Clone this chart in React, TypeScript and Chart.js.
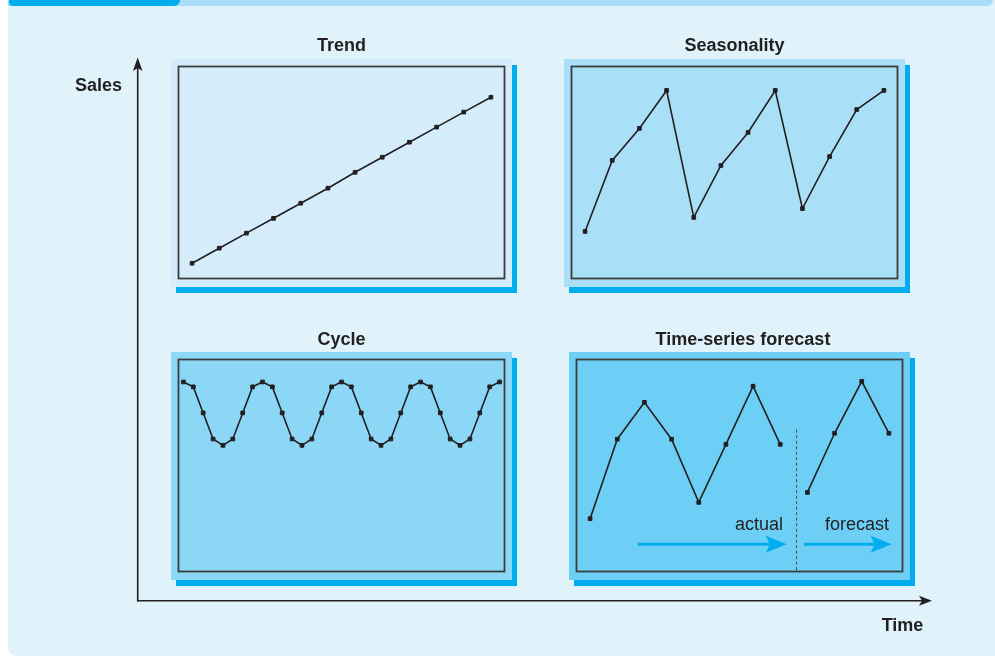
import React, { useEffect, useRef } from "react";
import { Chart, registerables } from "chart.js";

Chart.register(...registerables);

// ---------- data ----------
const trendPeriods = ["1", "2", "3", "4", "5", "6", "7", "8", "9", "10", "11", "12"];
const trendSales = [7.2, 14.3, 21.4, 28.4, 35.5, 42.6, 50.1, 57.2, 64.3, 71.4, 78.5, 85.5];

const seasonPeriods = ["1", "2", "3", "4", "5", "6", "7", "8", "9", "10", "11", "12"];
const seasonSales = [22.2, 55.7, 70.8, 88.7, 28.8, 53.3, 68.9, 88.7, 33.0, 57.5, 79.7, 88.7];

const cyclePeriods = [
  "1", "2", "3", "4", "5", "6", "7", "8", "9", "10", "11",
  "12", "13", "14", "15", "16", "17", "18", "19", "20", "21", "22",
  "23", "24", "25", "26", "27", "28", "29", "30", "31", "32", "33",
];
const cycleSales = [
  89.4, 87.1, 74.8, 62.5, 59.5, 62.5, 74.8, 87.1,
  89.4, 87.1, 74.8, 62.5, 59.5, 62.5, 74.8, 87.1,
  89.4, 87.1, 74.8, 62.5, 59.5, 62.5, 74.8, 87.1,
  89.4, 87.1, 74.8, 62.5, 59.5, 62.5, 74.8, 87.1,
  89.4,
];

const forecastPeriods = ["1", "2", "3", "4", "5", "6", "7", "8", "9", "10", "11", "12"];
const actualSales = [24.9, 62.4, 79.8, 62.4, 32.6, 60.0, 87.4, 60.0, null, null, null, null];
const forecastSales = [null, null, null, null, null, null, null, null, 37.3, 65.2, 89.7, 65.2];

const panelTitles = ["Trend", "Seasonality", "Cycle", "Time-series forecast"];
const yAxisLabel = "Sales";
const xAxisLabel = "Time";
const actualLabel = "actual";
const forecastLabel = "forecast";

// ---------- styles ----------
const INK = "#231f20";
const BOX = "#3c3c3c";
const SHADOW = "#00aeef";
const FONT = '"Liberation Sans", Arial, Helvetica, sans-serif';

const boxBorder = {
  id: "boxBorder",
  beforeDatasetsDraw(chart: any) {
    const { ctx, chartArea: a } = chart;
    ctx.save();
    ctx.strokeStyle = BOX;
    ctx.lineWidth = 1.8;
    ctx.strokeRect(a.left, a.top, a.right - a.left, a.bottom - a.top);
    ctx.restore();
  },
};

function drawArrow(ctx: CanvasRenderingContext2D, x0: number, x1: number, y: number) {
  ctx.save();
  ctx.strokeStyle = SHADOW;
  ctx.fillStyle = SHADOW;
  ctx.lineWidth = 3;
  ctx.beginPath();
  ctx.moveTo(x0, y);
  ctx.lineTo(x1 - 14, y);
  ctx.stroke();
  ctx.beginPath();
  ctx.moveTo(x1, y);
  ctx.lineTo(x1 - 21, y - 8.5);
  ctx.lineTo(x1 - 17, y);
  ctx.lineTo(x1 - 21, y + 8.5);
  ctx.closePath();
  ctx.fill();
  ctx.restore();
}

const forecastNotes = {
  id: "forecastNotes",
  afterDatasetsDraw(chart: any) {
    const { ctx } = chart;
    const xs = chart.scales.x;
    const ys = chart.scales.y;
    // divider between actual and forecast
    const dx = xs.getPixelForValue(7.6);
    ctx.save();
    ctx.strokeStyle = "#4a4a4a";
    ctx.lineWidth = 1;
    ctx.setLineDash([3, 2.5]);
    ctx.beginPath();
    ctx.moveTo(dx, ys.getPixelForValue(66.9));
    ctx.lineTo(dx, ys.getPixelForValue(0));
    ctx.stroke();
    ctx.restore();
    // arrows
    const ay = ys.getPixelForValue(12.9);
    drawArrow(ctx, xs.getPixelForValue(1.76), xs.getPixelForValue(7.24), ay);
    drawArrow(ctx, xs.getPixelForValue(7.87), xs.getPixelForValue(11.1), ay);
    // labels
    ctx.save();
    ctx.fillStyle = INK;
    ctx.font = `18px ${FONT}`;
    ctx.textAlign = "right";
    ctx.textBaseline = "alphabetic";
    ctx.fillText(actualLabel, xs.getPixelForValue(7.1), ys.getPixelForValue(19.4));
    ctx.fillText(forecastLabel, xs.getPixelForValue(11.0), ys.getPixelForValue(19.4));
    ctx.restore();
  },
};

type PanelProps = {
  left: number;
  top: number;
  fill: string;
  labels: string[];
  series: (number | null)[][];
  extra?: any;
};

function Panel({ left, top, fill, labels, series, extra }: PanelProps) {
  const ref = useRef<HTMLCanvasElement>(null);
  useEffect(() => {
    const chart = new Chart(ref.current as HTMLCanvasElement, {
      type: "line",
      data: {
        labels,
        datasets: series.map((d) => ({
          data: d,
          borderColor: INK,
          borderWidth: 1.6,
          pointStyle: "rect",
          pointRadius: 2.6,
          pointBorderWidth: 1,
          pointBackgroundColor: INK,
          pointBorderColor: INK,
          tension: 0,
          fill: false,
          spanGaps: false,
        })),
      },
      options: {
        animation: false,
        responsive: false,
        maintainAspectRatio: false,
        events: [],
        layout: { padding: 2.5, autoPadding: false },
        plugins: {
          legend: { display: false },
          tooltip: { enabled: false },
          title: { display: false },
        },
        scales: {
          x: { type: "category", display: false, offset: true },
          y: { type: "linear", display: false, min: 0, max: 100 },
        },
      } as any,
      plugins: extra ? [boxBorder, extra] : [boxBorder],
    });
    return () => chart.destroy();
  }, []);
  return (
    <>
      <div
        style={{
          position: "absolute",
          left: left + 5,
          top: top + 6,
          width: 341,
          height: 228,
          background: SHADOW,
        }}
      />
      <div
        style={{
          position: "absolute",
          left,
          top,
          width: 341,
          height: 228,
          background: fill,
        }}
      />
      <canvas
        ref={ref}
        width={331}
        height={217}
        style={{ position: "absolute", left: left + 5, top: top + 5, width: 331, height: 217 }}
      />
    </>
  );
}

export default function App() {
  const titleStyle = {
    fontFamily: FONT,
    fontSize: 18,
    fontWeight: 700,
    fill: INK,
  } as React.CSSProperties;
  return (
    <div
      style={{
        position: "absolute",
        left: 0,
        top: 0,
        width: 995,
        height: 656,
        background: "#ffffff",
        overflow: "hidden",
      }}
    >
      <div
        style={{
          position: "absolute",
          left: 8,
          top: 0,
          width: 987,
          height: 656,
          background: "#e0f3fb",
          borderBottomLeftRadius: 8,
        }}
      />
      <div
        style={{
          position: "absolute",
          left: 8,
          top: 0,
          width: 985,
          height: 6,
          background: "#a8def8",
          borderBottomRightRadius: 6,
        }}
      />
      <div
        style={{
          position: "absolute",
          left: 9,
          top: 0,
          width: 171,
          height: 6,
          background: SHADOW,
          borderBottomRightRadius: 6,
          borderBottomLeftRadius: 4,
        }}
      />

      <Panel left={171} top={59} fill="#d5edfa" labels={trendPeriods} series={[trendSales]} />
      <Panel left={564} top={59} fill="#aadff8" labels={seasonPeriods} series={[seasonSales]} />
      <Panel left={171} top={352} fill="#8cd7f6" labels={cyclePeriods} series={[cycleSales]} />
      <Panel
        left={569}
        top={352}
        fill="#6dcff5"
        labels={forecastPeriods}
        series={[actualSales, forecastSales]}
        extra={forecastNotes}
      />

      <svg
        width={995}
        height={656}
        style={{ position: "absolute", left: 0, top: 0, pointerEvents: "none" }}
      >
        <text x={341.5} y={50.7} textAnchor="middle" style={titleStyle}>{panelTitles[0]}</text>
        <text x={734.5} y={50.7} textAnchor="middle" style={titleStyle}>{panelTitles[1]}</text>
        <text x={341.5} y={345} textAnchor="middle" style={titleStyle}>{panelTitles[2]}</text>
        <text x={743} y={345} textAnchor="middle" style={titleStyle}>{panelTitles[3]}</text>

        <text x={75} y={90.7} style={titleStyle}>{yAxisLabel}</text>
        <text x={881.7} y={630.7} style={titleStyle}>{xAxisLabel}</text>

        <line x1={137.7} y1={601.5} x2={137.7} y2={67} stroke={INK} strokeWidth={1.6} />
        <polygon points="137.7,57.5 132.9,71 137.7,68 142.5,71" fill={INK} />
        <line x1={137} y1={600.8} x2={924} y2={600.8} stroke={INK} strokeWidth={1.6} />
        <polygon points="932,600.8 919,595.8 922,600.8 919,605.8" fill={INK} />
      </svg>
    </div>
  );
}
